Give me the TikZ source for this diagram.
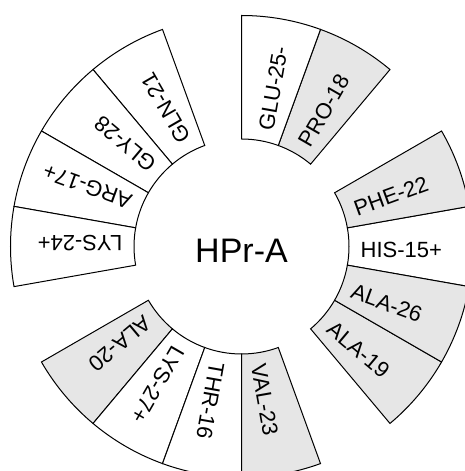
\documentclass[tikz,border=0pt]{standalone}
\usepackage{fontspec}
\setmainfont{Liberation Sans}
\usetikzlibrary{calc}
\definecolor{segfill}{HTML}{E6E6E6}
\begin{document}
\begin{tikzpicture}[x=1pt,y=1pt,
  seg/.style={draw=black,line width=1pt,line join=miter},
  reslabel/.style={anchor=base west,inner sep=0pt,font=\fontsize{22}{26}\selectfont},
  centerlabel/.style={anchor=center,inner sep=0pt,font=\fontsize{34}{40}\selectfont}]
\useasboundingbox (0,0) rectangle (465,471);
\coordinate (c) at (241.5,224.5);
\def\rin{107.5}
\def\rout{231}
\foreach \a/\t/\f/\n in {0/HIS-15+/white/his15, 20/PHE-22/segfill/phe22, 60/PRO-18/segfill/pro18,
  80/GLU-25-/white/glu25, 120/GLN-21/white/gln21, 140/GLY-28/white/gly28,
  160/ARG-17+/white/arg17, 180/LYS-24+/white/lys24, 220/ALA-20/segfill/ala20,
  240/LYS-27+/white/lys27, 260/THR-16/white/thr16, 280/VAL-23/segfill/val23,
  320/ALA-19/segfill/ala19, 340/ALA-26/segfill/ala26}{
  \pgfmathsetmacro{\sa}{\a-10}
  \pgfmathsetmacro{\ea}{\a+10}
  \draw[seg,fill=\f] ($(c)+(\sa:\rin)$) arc[start angle=\sa,end angle=\ea,radius=\rin]
     -- ($(c)+(\ea:\rout)$) arc[start angle=\ea,end angle=\sa,radius=\rout] -- cycle;
  \node[reslabel,rotate=\a] (\n) at ($(c)+(\a:119)+(\a-90:11.4)$) {\t};
}
\node[centerlabel] (title) at (241.5,220) {HPr-A};
\end{tikzpicture}
\end{document}
